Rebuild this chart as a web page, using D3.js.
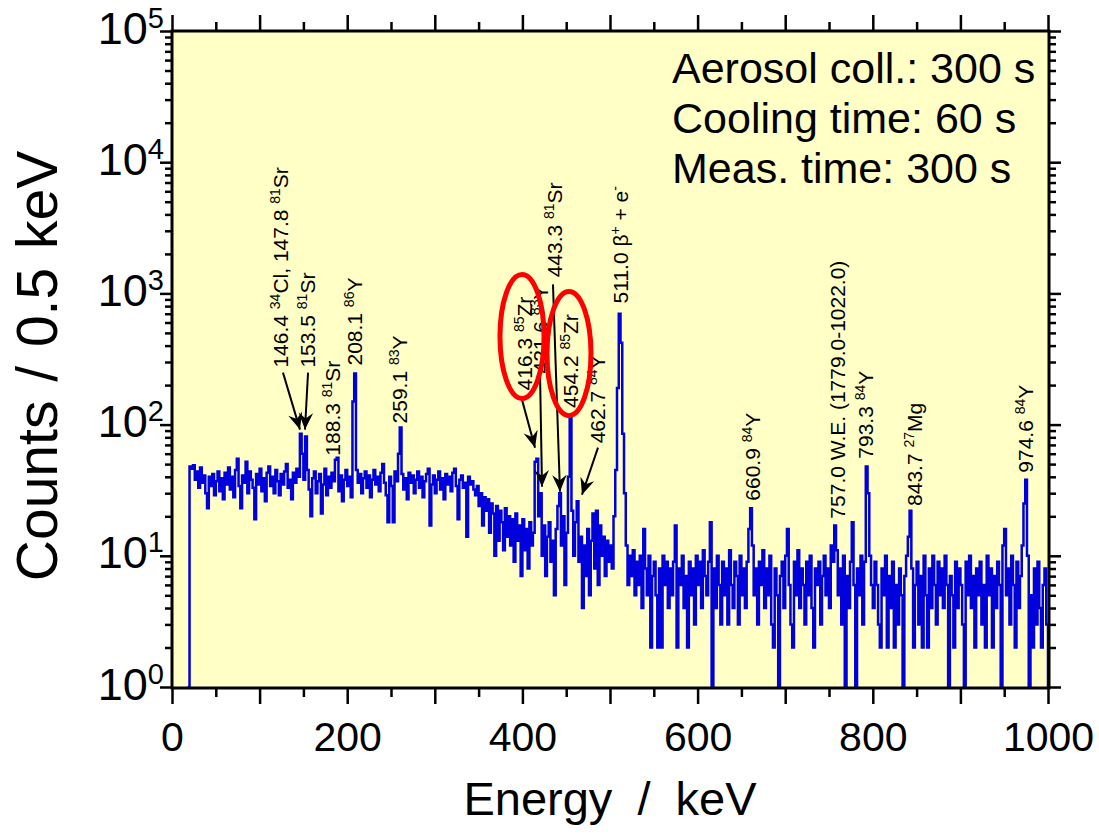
<!DOCTYPE html>
<html>
<head>
<meta charset="utf-8">
<script src="https://cdn.jsdelivr.net/npm/d3@7"></script>
<style>
  body { margin: 0; background: #fff; }
  svg text { font-family: "Liberation Sans", Arial, sans-serif; }
</style>
</head>
<body>
<svg id="canvas" width="1099" height="836"></svg>
<script>
(function () {

    // gamma spectrum, counts per 0.5 keV, one value every 2 keV
    const binStart = 18, binStep = 2;

    const countsA = [ // 18 - 218 keV
        1,
        48, 46, 49, 38, 44, 33, 47, 36, 41, 30,
        23, 40, 34, 42, 29, 37, 44, 31, 39, 27,
        43, 35, 47, 32, 40, 28, 45, 55, 34, 23,
        41, 36, 52, 30, 44, 38, 33, 19, 42, 35,
        46, 31, 39, 26, 43, 48, 34, 40, 30, 45,
        37, 29, 42, 35, 44, 50, 33, 38, 27, 43,
        36, 46, 40, 85, 60, 38, 81, 45, 32, 20,
        39, 44, 30, 37, 42, 21, 35, 46, 29, 40,
        33, 43, 37, 54, 56, 31, 41, 26, 38, 45,
        34, 40, 28, 150, 245, 45, 36, 42, 30, 39
    ];
    const countsB = [ // 220 - 398 keV
        44, 33, 41, 28, 38, 45, 35, 40, 31, 43,
        50, 36, 29, 18, 40, 34, 18, 44, 37, 60,
        95, 42, 32, 39, 27, 43, 36, 41, 30, 38,
        44, 33, 40, 28, 37, 42, 46, 17, 35, 41,
        30, 38, 44, 32, 39, 27, 42, 35, 40, 31,
        43, 46, 34, 19, 38, 41, 33, 36, 14, 40,
        35, 37, 32, 29, 34, 24, 30, 17, 28, 22,
        27, 15, 25, 21, 10, 24, 13, 22, 18, 11,
        23, 14, 20, 12, 19, 9, 21, 13, 17, 7
    ];
    const countsC = [ // 400 - 598 keV
        19, 11, 16, 8, 18, 12, 15, 52, 55, 20,
        30, 10, 17, 7, 14, 18, 9, 13, 5, 16,
        24, 30, 12, 20, 6, 15, 40, 115, 22, 10,
        18, 26, 9, 14, 4, 12, 7, 16, 5, 13,
        21, 8, 22, 6, 17, 10, 14, 7, 13, 9,
        12, 8, 20, 45, 190, 700, 420, 85, 30, 12,
        6, 10, 7, 11, 5, 9, 6, 10, 4, 16,
        8, 5, 10, 2, 7, 9, 5, 2, 8, 2,
        10, 6, 9, 4, 8, 5, 9, 17, 2, 8,
        6, 10, 4, 7, 2, 9, 5, 8, 3, 10
    ];
    const countsD = [ // 600 - 798 keV
        6, 9, 4, 11, 7, 5, 9, 18, 1, 8,
        4, 10, 6, 3, 9, 5, 8, 3, 11, 6,
        4, 9, 7, 3, 10, 5, 8, 4, 9, 16,
        23, 12, 5, 8, 3, 9, 6, 11, 4, 8,
        5, 10, 3, 2, 8, 5, 1, 7, 9, 4,
        10, 16, 6, 3, 2, 9, 5, 11, 4, 8,
        6, 3, 9, 5, 10, 4, 2, 8, 6, 9,
        3, 7, 10, 5, 8, 4, 12, 9, 17, 11,
        5, 8, 3, 10, 1, 7, 4, 9, 18, 6,
        1, 8, 5, 10, 3, 9, 48, 30, 10, 6
    ];
    const countsE = [ // 800 - 1000 keV
        4, 9, 6, 3, 2, 8, 5, 10, 2, 7,
        4, 9, 2, 6, 3, 8, 5, 1, 7, 10,
        14, 22, 8, 2, 6, 9, 3, 7, 2, 10,
        5, 2, 8, 4, 10, 6, 3, 9, 5, 8,
        4, 10, 6, 1, 7, 5, 2, 9, 4, 8,
        6, 3, 1, 9, 5, 10, 4, 7, 2, 8,
        5, 9, 3, 6, 2, 10, 5, 8, 2, 7,
        4, 9, 6, 1, 12, 16, 5, 8, 3, 10,
        6, 2, 9, 4, 7, 12, 25, 38, 10, 1,
        5, 2, 8, 3, 9, 4, 2, 6, 8, 3,
        1
    ];

    const xMajorTicks = [0, 100, 200, 300, 400, 500, 600, 700, 800, 900, 1000];
    const xLabelledTicks = [0, 200, 400, 600, 800, 1000];
    const xMinorTicks = [50, 150, 250, 350, 450, 550, 650, 750, 850, 950];
    const yExponents = [0, 1, 2, 3, 4, 5];

    // peak labels: energy of the text baseline, count where the text starts, text (^..^ = superscript)
    const peakLabels = [
        { e: 132.4, c: 272, t: "146.4 ^34^Cl, 147.8 ^81^Sr" },
        { e: 163.0, c: 272, t: "153.5 ^81^Sr" },
        { e: 191.8, c: 58, t: "188.3 ^81^Sr" },
        { e: 216.9, c: 282, t: "208.1 ^86^Y" },
        { e: 268.0, c: 102, t: "259.1 ^83^Y" },
        { e: 411.0, c: 182, t: "416.3 ^85^Zr" },
        { e: 429.0, c: 245, t: "421.6 ^83^Y" },
        { e: 445.0, c: 1325, t: "443.3 ^81^Sr" },
        { e: 463.5, c: 134, t: "454.2 ^85^Zr" },
        { e: 494.0, c: 72, t: "462.7 ^84^Y" },
        { e: 520.5, c: 839, t: "511.0 β^+^ + e^-^" },
        { e: 671.0, c: 26.3, t: "660.9 ^84^Y" },
        { e: 768.0, c: 19.2, t: "757.0 W.E. (1779.0-1022.0)" },
        { e: 800.0, c: 55, t: "793.3 ^84^Y" },
        { e: 856.0, c: 24, t: "843.7 ^27^Mg" },
        { e: 983.0, c: 43, t: "974.6 ^84^Y" }
    ];

    // arrows from label to peak: [e from, count from, e to, count to]
    const arrows = [
        [126.7, 249, 146.1, 91.6],
        [155.3, 249, 151.8, 91.6],
        [399.5, 155, 414.4, 66.7],
        [420.1, 249, 422.4, 33.6],
        [434.9, 1172, 442.9, 30.8],
        [486.3, 66.7, 468.0, 29.2]
    ];

    // red rings round the 85Zr labels: energy span and count span
    const rings = [
        [374.4, 424.7, 158, 1396],
        [428.1, 478.3, 117, 1036]
    ];

    const infoLines = ["Aerosol coll.: 300 s", "Cooling time: 60 s", "Meas. time: 300 s"];

    const counts = countsA.concat(countsB, countsC, countsD, countsE);
    const spectrum = counts.map((c, i) => ({ e: binStart + i * binStep, c: c }));

    const left = 172, right = 1049, top = 31, bottom = 688;

    const svg = d3.select("#canvas");

    const x = d3.scaleLinear().domain([0, 1000]).range([left, 1048]);
    const y = d3.scaleLog().domain([1, 1e5]).range([687, top]);

    svg.append("rect")
        .attr("x", left).attr("y", top)
        .attr("width", right - left).attr("height", bottom - top)
        .attr("fill", "#ffffc6");

    svg.append("clipPath").attr("id", "plotclip")
        .append("rect")
        .attr("x", left).attr("y", top)
        .attr("width", right - left).attr("height", bottom - top);

    const line = d3.line()
        .x(d => x(d.e))
        .y(d => y(d.c))
        .curve(d3.curveStepAfter);

    svg.append("path")
        .datum(spectrum)
        .attr("clip-path", "url(#plotclip)")
        .attr("fill", "none")
        .attr("stroke", "#0000dc")
        .attr("stroke-width", 2.5)
        .attr("d", line);

    // axes, ticks pointing outward on all four sides
    const yMinor = [];
    yExponents.slice(0, -1).forEach(p => {
        for (let k = 2; k <= 9; k++) yMinor.push(k * Math.pow(10, p));
    });

    function styleAxis(g) {
        g.select(".domain").remove();
        g.selectAll(".tick line").attr("stroke", "#000").attr("stroke-width", 2.5);
    }

    const xBottom = svg.append("g").attr("transform", `translate(0,${bottom})`)
        .call(d3.axisBottom(x).tickValues(xMajorTicks).tickSize(16).tickPadding(18)
            .tickFormat(d => xLabelledTicks.includes(d) ? d : ""))
        .call(styleAxis);
    xBottom.selectAll("text").attr("font-size", 41).attr("fill", "#000")
        .attr("font-family", "'Liberation Sans', Arial, sans-serif");
    svg.append("g").attr("transform", `translate(0,${bottom})`)
        .call(d3.axisBottom(x).tickValues(xMinorTicks).tickSize(9).tickFormat(""))
        .call(styleAxis);

    svg.append("g").attr("transform", `translate(0,${top})`)
        .call(d3.axisTop(x).tickValues(xMajorTicks).tickSize(16).tickFormat(""))
        .call(styleAxis);
    svg.append("g").attr("transform", `translate(0,${top})`)
        .call(d3.axisTop(x).tickValues(xMinorTicks).tickSize(9).tickFormat(""))
        .call(styleAxis);

    const yMajor = yExponents.map(p => Math.pow(10, p));
    const yLeft = svg.append("g").attr("transform", `translate(${left},0)`)
        .call(d3.axisLeft(y).tickValues(yMajor).tickSize(12).tickFormat(""))
        .call(styleAxis);
    svg.append("g").attr("transform", `translate(${left},0)`)
        .call(d3.axisLeft(y).tickValues(yMinor).tickSize(7).tickFormat(""))
        .call(styleAxis);
    svg.append("g").attr("transform", `translate(${right},0)`)
        .call(d3.axisRight(y).tickValues(yMajor).tickSize(12).tickFormat(""))
        .call(styleAxis);
    svg.append("g").attr("transform", `translate(${right},0)`)
        .call(d3.axisRight(y).tickValues(yMinor).tickSize(7).tickFormat(""))
        .call(styleAxis);

    // 10^n labels
    yLeft.selectAll(".tick").each(function (d, i) {
        const t = d3.select(this).append("text")
            .attr("x", -8).attr("y", 12)
            .attr("text-anchor", "end")
            .attr("fill", "#000")
            .attr("font-size", 45);
        t.append("tspan").text("10");
        t.append("tspan").attr("font-size", 29).attr("dy", -16).text(yExponents[i]);
    });

    // frame
    svg.append("rect")
        .attr("x", left).attr("y", top)
        .attr("width", right - left).attr("height", bottom - top)
        .attr("fill", "none").attr("stroke", "#000").attr("stroke-width", 3);

    // axis titles
    svg.append("text")
        .attr("x", x(500)).attr("y", 815)
        .attr("text-anchor", "middle")
        .attr("font-size", 47).attr("word-spacing", 12)
        .text("Energy / keV");
    svg.append("text")
        .attr("transform", "translate(57,366) rotate(-90)")
        .attr("text-anchor", "middle")
        .attr("font-size", 57).attr("word-spacing", 3)
        .text("Counts / 0.5 keV");

    // measurement info
    svg.append("g").selectAll("text")
        .data(infoLines)
        .join("text")
        .attr("x", 672)
        .attr("y", (d, i) => 83 + i * 50)
        .attr("font-size", 43)
        .text(d => d);

    // peak labels
    peakLabels.forEach(l => {
        const t = svg.append("text")
            .attr("transform", `translate(${x(l.e)},${y(l.c)}) rotate(-90)`)
            .attr("font-size", 21)
            .attr("fill", "#000");
        l.t.split("^").forEach((part, i) => {
            if (!part) return;
            if (i % 2 === 1) {
                t.append("tspan").attr("font-size", 14).attr("dy", -8).text(part);
            } else {
                const s = t.append("tspan").text(part);
                if (i > 0) s.attr("dy", 8);
            }
        });
    });

    // arrows
    svg.append("defs").append("marker")
        .attr("id", "head")
        .attr("markerUnits", "userSpaceOnUse")
        .attr("markerWidth", 20).attr("markerHeight", 20)
        .attr("refX", 0).attr("refY", 0)
        .attr("viewBox", "-16 -8 18 16")
        .attr("orient", "auto")
        .append("path")
        .attr("d", "M0,0 L-15,-6.5 L-10,0 L-15,6.5 Z")
        .attr("fill", "#000");

    svg.append("g").selectAll("line")
        .data(arrows)
        .join("line")
        .attr("x1", d => x(d[0])).attr("y1", d => y(d[1]))
        .attr("x2", d => x(d[2])).attr("y2", d => y(d[3]))
        .attr("stroke", "#000").attr("stroke-width", 2)
        .attr("marker-end", "url(#head)");

    // red rings
    svg.append("g").selectAll("ellipse")
        .data(rings)
        .join("ellipse")
        .attr("cx", d => (x(d[0]) + x(d[1])) / 2)
        .attr("cy", d => (y(d[2]) + y(d[3])) / 2)
        .attr("rx", d => (x(d[1]) - x(d[0])) / 2)
        .attr("ry", d => (y(d[2]) - y(d[3])) / 2)
        .attr("fill", "none")
        .attr("stroke", "#ff0000")
        .attr("stroke-width", 5);

})();
</script>
</body>
</html>
